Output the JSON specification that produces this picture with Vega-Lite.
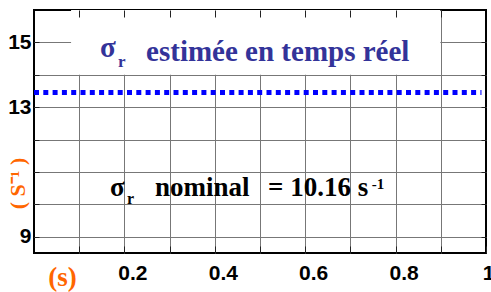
{
  "$schema": "https://vega.github.io/schema/vega-lite/v6.json",
  "width": 452,
  "height": 243,
  "autosize": {"type": "none"},
  "padding": {"left": 34, "top": 10, "right": 5, "bottom": 39},
  "background": "white",
  "config": {"view": {"stroke": "#000000", "strokeWidth": 2}},
  "resolve": {"axis": {"x": "independent", "y": "independent"}},
  "layer": [
    {
      "data": {"values": [{}]},
      "mark": {"type": "rect", "color": "white"},
      "encoding": {
        "x": {"datum": 0.082, "type": "quantitative", "scale": {"domain": [0, 1], "nice": false, "zero": false},
          "axis": {"values": [0.1, 0.2, 0.3, 0.4, 0.5, 0.6, 0.7, 0.8, 0.9], "grid": true, "gridColor": "#777777", "gridWidth": 1, "ticks": false, "labels": false, "domain": false, "title": null, "zindex": 0}},
        "x2": {"datum": 0.899},
        "y": {"datum": 14, "type": "quantitative", "scale": {"domain": [8.5, 16], "nice": false, "zero": false},
          "axis": {"values": [9, 10, 11, 12, 13, 14, 15], "grid": true, "gridColor": "#777777", "gridWidth": 1, "ticks": false, "labels": false, "domain": false, "title": null, "zindex": 0}},
        "y2": {"datum": 16}
      }
    },
    {
      "data": {"values": [{"t": 0, "sigma": 13.45}, {"t": 0.99, "sigma": 13.45}]},
      "mark": {"type": "line", "color": "#0000FF", "strokeWidth": 5, "strokeDash": [5, 4.3], "strokeCap": "butt"},
      "encoding": {
        "x": {"field": "t", "type": "quantitative", "scale": {"domain": [0, 1], "nice": false, "zero": false},
          "axis": {"orient": "bottom", "values": [0.1, 0.2, 0.3, 0.4, 0.5, 0.6, 0.7, 0.8, 0.9, 1], "format": "~g",
            "labelExpr": "(datum.value == 0.2 || datum.value == 0.4 || datum.value == 0.6 || datum.value == 0.8 || datum.value == 1) ? datum.label : ''",
            "grid": false, "domain": false, "tickSize": -7, "tickColor": "#222222", "tickWidth": 1, "zindex": 1,
            "labelFont": "Liberation Sans", "labelFontSize": 21, "labelFontWeight": "bold", "labelColor": "#000000",
            "labelPadding": 16, "labelFlush": false, "labelOverlap": false,
            "labelOffset": {"condition": {"test": "datum.value == 1", "value": 2}, "value": 8},
            "title": "(s)", "titleFont": "Liberation Serif", "titleFontSize": 27, "titleFontWeight": "bold", "titleColor": "#FF6600",
            "titleX": 28, "titleY": 32, "titleBaseline": "alphabetic", "titleAlign": "center"}},
        "y": {"field": "sigma", "type": "quantitative", "scale": {"domain": [8.5, 16], "nice": false, "zero": false},
          "axis": {"orient": "left", "values": [9, 10, 11, 12, 13, 14, 15], "format": "~g",
            "labelExpr": "(datum.value == 9 || datum.value == 13 || datum.value == 15) ? datum.label : ''",
            "grid": false, "domain": false, "tickSize": -5, "tickColor": "#222222", "tickWidth": 1, "zindex": 1,
            "labelFont": "Liberation Sans", "labelFontSize": 21, "labelFontWeight": "bold", "labelColor": "#000000",
            "labelPadding": 8, "labelFlush": false, "labelOverlap": false,
            "title": "( S⁻¹ )", "titleFont": "Liberation Serif", "titleFontSize": 22, "titleFontWeight": "bold", "titleColor": "#FF6600",
            "titleX": -17, "titleY": 173, "titleAngle": 270, "titleBaseline": "middle", "titleAlign": "center"}}
      }
    },
    {
      "data": {"values": [{"t": 0, "sigma": 13.45}, {"t": 0.99, "sigma": 13.45}]},
      "mark": {"type": "line", "opacity": 0},
      "encoding": {
        "x": {"field": "t", "type": "quantitative",
          "axis": {"orient": "top", "values": [0.1, 0.2, 0.3, 0.4, 0.5, 0.6, 0.7, 0.8, 0.9], "grid": false, "domain": false, "labels": false, "tickSize": -7, "tickColor": "#222222", "title": null, "zindex": 1}},
        "y": {"field": "sigma", "type": "quantitative",
          "axis": {"orient": "right", "values": [9, 10, 11, 12, 13, 14, 15], "grid": false, "domain": false, "labels": false, "tickSize": -5, "tickColor": "#222222", "title": null, "zindex": 1}}
      }
    },
    {
      "data": {"values": [{}]},
      "mark": {"type": "text", "text": "σ", "font": "Liberation Serif", "fontWeight": "bold", "fontSize": 29, "color": "#333399", "align": "left", "baseline": "alphabetic"},
      "encoding": {"x": {"datum": 0.146, "type": "quantitative", "axis": null}, "y": {"datum": 14.54, "type": "quantitative", "axis": null}}
    },
    {
      "data": {"values": [{}]},
      "mark": {"type": "text", "text": "r", "font": "Liberation Serif", "fontWeight": "bold", "fontSize": 17, "color": "#333399", "align": "left", "baseline": "alphabetic"},
      "encoding": {"x": {"datum": 0.186, "type": "quantitative", "axis": null}, "y": {"datum": 14.23, "type": "quantitative", "axis": null}}
    },
    {
      "data": {"values": [{}]},
      "mark": {"type": "text", "text": "estimée en temps réel", "font": "Liberation Serif", "fontWeight": "bold", "fontSize": 29, "color": "#333399", "align": "left", "baseline": "alphabetic"},
      "encoding": {"x": {"datum": 0.248, "type": "quantitative", "axis": null}, "y": {"datum": 14.415, "type": "quantitative", "axis": null}}
    },
    {
      "data": {"values": [{}]},
      "mark": {"type": "text", "text": "σ", "font": "Liberation Serif", "fontWeight": "bold", "fontSize": 27, "color": "#000000", "align": "left", "baseline": "alphabetic"},
      "encoding": {"x": {"datum": 0.168, "type": "quantitative", "axis": null}, "y": {"datum": 10.246, "type": "quantitative", "axis": null}}
    },
    {
      "data": {"values": [{}]},
      "mark": {"type": "text", "text": "r", "font": "Liberation Serif", "fontWeight": "bold", "fontSize": 16, "color": "#000000", "align": "left", "baseline": "alphabetic"},
      "encoding": {"x": {"datum": 0.206, "type": "quantitative", "axis": null}, "y": {"datum": 10.0, "type": "quantitative", "axis": null}}
    },
    {
      "data": {"values": [{}]},
      "mark": {"type": "text", "text": "nominal", "font": "Liberation Serif", "fontWeight": "bold", "fontSize": 27, "color": "#000000", "align": "left", "baseline": "alphabetic"},
      "encoding": {"x": {"datum": 0.2677, "type": "quantitative", "axis": null}, "y": {"datum": 10.246, "type": "quantitative", "axis": null}}
    },
    {
      "data": {"values": [{}]},
      "mark": {"type": "text", "text": "= 10.16 s", "font": "Liberation Serif", "fontWeight": "bold", "fontSize": 27, "color": "#000000", "align": "left", "baseline": "alphabetic"},
      "encoding": {"x": {"datum": 0.5177, "type": "quantitative", "axis": null}, "y": {"datum": 10.246, "type": "quantitative", "axis": null}}
    },
    {
      "data": {"values": [{}]},
      "mark": {"type": "text", "text": "-1", "font": "Liberation Serif", "fontWeight": "bold", "fontSize": 15, "color": "#000000", "align": "left", "baseline": "alphabetic"},
      "encoding": {"x": {"datum": 0.747, "type": "quantitative", "axis": null}, "y": {"datum": 10.46, "type": "quantitative", "axis": null}}
    }
  ]
}
